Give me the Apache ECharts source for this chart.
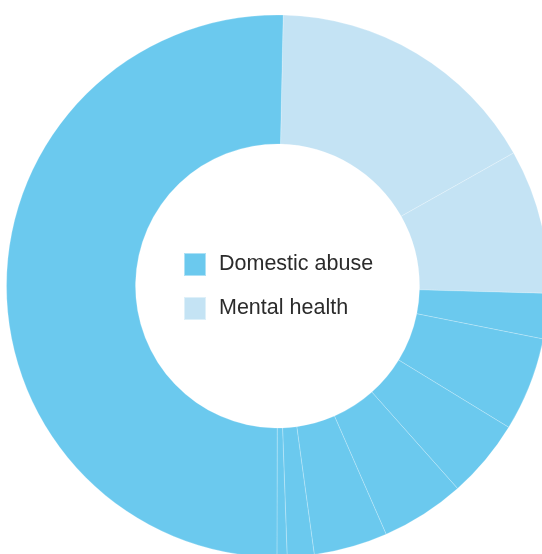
<!DOCTYPE html>
<html>
<head>
<meta charset="utf-8">
<script src="https://cdn.jsdelivr.net/npm/echarts@6/dist/echarts.min.js"></script>
<style>
html,body{margin:0;padding:0;background:#fff;}
#chart{width:542px;height:554px;}
</style>
</head>
<body>
<div id="chart"></div>
<script>
// Segment groups (clockwise from the top)
const groups = ['Mental health','Mental health','Domestic abuse','Domestic abuse','Domestic abuse','Domestic abuse','Domestic abuse','Domestic abuse','Domestic abuse','Domestic abuse'];
// Segment shares (%)
const values = [16.5, 8.6, 2.7, 5.6, 4.7, 5.0, 4.4, 1.6, 0.6, 50.3];
const legendNames = ['Domestic abuse','Mental health'];
const colorMap = {'Domestic abuse':'#6BC9EE','Mental health':'#C4E3F4'};

const chart = echarts.init(document.getElementById('chart'), null, {renderer:'canvas'});
chart.setOption({
  animation:false,
  legend:{
    data:legendNames,
    orient:'vertical',
    left:183, top:252,
    padding:0,
    itemWidth:22, itemHeight:23, itemGap:19,
    icon:'rect',
    textStyle:{fontFamily:'Liberation Sans, Arial, sans-serif', fontSize:21.5, color:'#2b2b2b', padding:[4,0,0,8]},
    selectedMode:false
  },
  series:[{
    type:'pie',
    center:[277.5,286],
    radius:[142,271],
    startAngle:88.8,
    clockwise:true,
    label:{show:false},
    labelLine:{show:false},
    emphasis:{disabled:true},
    itemStyle:{borderColor:'rgba(255,255,255,0.45)', borderWidth:0.5},
    data:values.map((v,i)=>({name:groups[i], value:v, itemStyle:{color:colorMap[groups[i]]}}))
  }]
});
</script>
</body>
</html>
